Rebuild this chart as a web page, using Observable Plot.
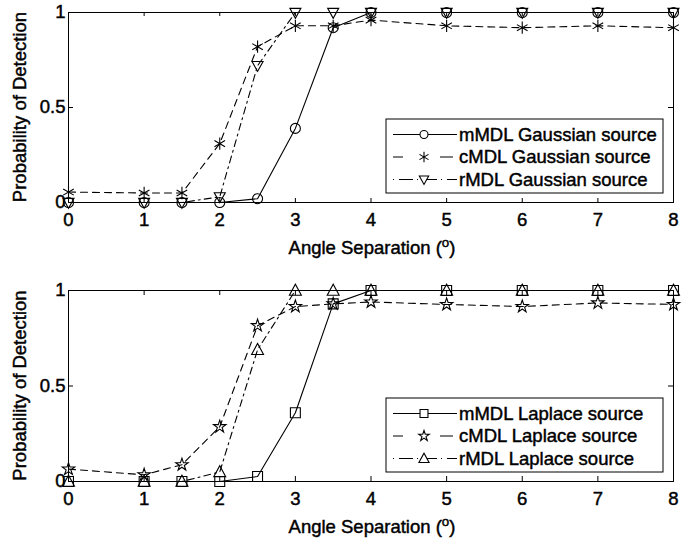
<!DOCTYPE html>
<html><head><meta charset="utf-8">
<script src="https://cdn.jsdelivr.net/npm/d3@7"></script>
<script src="https://cdn.jsdelivr.net/npm/@observablehq/plot@0.6"></script>
<style>
body{margin:0;background:#fff;}
#wrap{position:relative;width:692px;height:542px;font-family:"Liberation Sans",Arial,sans-serif;}
#wrap svg{display:block;}
#wrap svg text{stroke:black;stroke-width:0.45px;}
</style>
</head><body><div id="wrap"></div>
<script>
const angles = [0, 1, 1.5, 2, 2.5, 3, 3.5, 4, 5, 6, 7, 8];
const gaussM = [0, 0, 0, 0, 0.02, 0.39, 0.92, 1, 1, 1, 1, 1];
const gaussC = [0.055, 0.05, 0.05, 0.31, 0.82, 0.93, 0.93, 0.96, 0.93, 0.92, 0.93, 0.92];
const gaussR = [0, 0, 0, 0.03, 0.72, 1, 1, 1, 1, 1, 1, 1];
const lapM = [0, 0, 0, 0, 0.026, 0.36, 0.93, 1, 1, 1, 1, 1];
const lapC = [0.065, 0.035, 0.088, 0.287, 0.816, 0.916, 0.93, 0.94, 0.927, 0.916, 0.935, 0.927];
const lapR = [0, 0, 0, 0.05, 0.69, 1, 1, 1, 1, 1, 1, 1];
const xTicks = [0, 1, 2, 3, 4, 5, 6, 7, 8];
const yTicks = [0, 0.5, 1];
const gaussNames = ["mMDL Gaussian source", "cMDL Gaussian source", "rMDL Gaussian source"];
const lapNames = ["mMDL Laplace source", "cMDL Laplace source", "rMDL Laplace source"];

const FONT = 18.5;
const dashes = [null, "7,5", "7,4,2,4"];
const legendDashes = [null, "10,37,13", "1,5,14,4"];
const triDown = {draw(ctx, size){ const r = Math.sqrt(size/Math.PI); const h = r*1.1; ctx.moveTo(-h, -h*0.75); ctx.lineTo(h, -h*0.75); ctx.lineTo(0, h*1.05); ctx.closePath(); }};
const triUp = {draw(ctx, size){ const r = Math.sqrt(size/Math.PI); const h = r*1.15; ctx.moveTo(-h, h*0.8); ctx.lineTo(h, h*0.8); ctx.lineTo(0, -h*1.05); ctx.closePath(); }};
const symMap = {circle: d3.symbolCircle, asterisk: d3.symbolAsterisk, square: d3.symbolSquare, star: d3.symbolStar};

function makePanel(series, names, symbols, radii, mTop, mBottom, legendTop) {
  const H = 271;
  const marks = [
    Plot.frame({stroke: "black", strokeWidth: 1}),
    Plot.tickX(xTicks, {x: d => d, insetTop: 186, stroke: "black"}),
    Plot.tickX(xTicks, {x: d => d, insetBottom: 186, stroke: "black"}),
    Plot.tickY(yTicks, {y: d => d, insetRight: 600, stroke: "black"}),
    Plot.tickY(yTicks, {y: d => d, insetLeft: 600, stroke: "black"}),
    Plot.axisX(xTicks, {tickSize: 0, tickPadding: 10, fontSize: FONT, tickFormat: d => String(d)}),
    Plot.axisY(yTicks, {tickSize: 0, tickPadding: 3, fontSize: FONT, tickFormat: d => String(d)})
  ];
  series.forEach((vals, i) => {
    const data = angles.map((a, j) => ({a, v: vals[j]}));
    marks.push(Plot.line(data, {x: "a", y: "v", stroke: "black", strokeWidth: 1.1, strokeDasharray: dashes[i]}));
    marks.push(Plot.dot(data, {x: "a", y: "v", symbol: symbols[i], r: radii[i], stroke: "black", fill: "none", strokeWidth: 1.1}));
  });
  const svg = Plot.plot({
    width: 692, height: H,
    marginLeft: 68, marginRight: 19, marginTop: mTop, marginBottom: mBottom,
    x: {domain: [0, 8], label: null},
    y: {domain: [0, 1], label: null},
    style: {fontFamily: '"Liberation Sans", Arial, sans-serif', fontSize: FONT + "px", color: "black", background: "white", overflow: "visible"},
    marks
  });
  const s = d3.select(svg);
  const plotBottom = H - mBottom;
  // x label
  const xl = s.append("text").attr("x", 372).attr("y", plotBottom + 52)
    .attr("text-anchor", "middle").attr("font-size", FONT).attr("fill", "black");
  xl.append("tspan").text("Angle Separation (");
  xl.append("tspan").attr("dy", -7).attr("font-size", FONT * 0.72).text("o");
  xl.append("tspan").attr("dy", 7).text(")");
  // y label
  s.append("text").attr("transform", `translate(26,${(mTop + plotBottom) / 2}) rotate(-90)`)
    .attr("text-anchor", "middle").attr("font-size", FONT).attr("fill", "black").text("Probability of Detection");
  // legend
  const lg = s.append("g").attr("transform", `translate(386,${legendTop})`);
  lg.append("rect").attr("width", 277).attr("height", 74).attr("fill", "white").attr("stroke", "black").attr("stroke-width", 1);
  names.forEach((n, i) => {
    const cy = 15.5 + i * 22.5;
    lg.append("line").attr("x1", 7).attr("x2", 71).attr("y1", cy).attr("y2", cy)
      .attr("stroke", "black").attr("stroke-width", 1.1).attr("stroke-dasharray", legendDashes[i]);
    const sym = typeof symbols[i] === "string" ? symMap[symbols[i]] : symbols[i];
    const rr = radii[i] * (i === 0 ? 0.8 : 0.85);
    lg.append("path").attr("d", d3.symbol(sym, rr * rr * Math.PI)()).attr("transform", `translate(38,${cy})`)
      .attr("fill", "white").attr("stroke", "black").attr("stroke-width", 1.1);
    lg.append("text").attr("x", 73).attr("y", cy).attr("dy", "0.35em").attr("text-anchor", "start")
      .attr("font-size", FONT).attr("fill", "black").text(n);
  });
  return svg;
}

const wrap = document.getElementById("wrap");
wrap.appendChild(makePanel([gaussM, gaussC, gaussR], gaussNames, ["circle", "asterisk", triDown], [5, 5.8, 5], 12, 69, 119));
wrap.appendChild(makePanel([lapM, lapC, lapR], lapNames, ["square", "star", triUp], [5.6, 3.9, 5.2], 19, 61, 127));
</script></body></html>
